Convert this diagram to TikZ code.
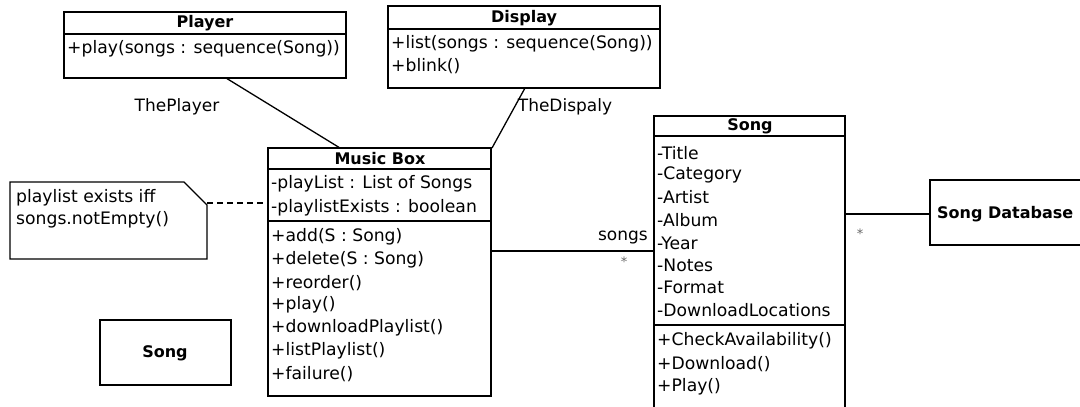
\documentclass[tikz,border=0pt]{standalone}
\usepackage{fontspec}
\setmainfont{DejaVu Sans}
\usetikzlibrary{calc}
\tikzset{
  box/.style={draw, line width=1.3pt, anchor=north west, inner sep=0pt, outer sep=0pt},
  txt/.style={anchor=west, inner sep=0pt, font=\fontsize{17.2}{18}\selectfont},
  ttl/.style={anchor=center, inner sep=0pt, font=\fontsize{16}{18}\selectfont\bfseries},
  lbl/.style={inner sep=0pt, font=\fontsize{17}{18}\selectfont},
  mult/.style={inner sep=0pt, text=black!60, font=\fontsize{13}{14}\selectfont},
  conn/.style={line width=1.3pt},
  sepline/.style={line width=1.3pt}
}
\begin{document}
\begin{tikzpicture}[x=1pt,y=-1pt]
\useasboundingbox (0,0) rectangle (1080,407);

% Player
\node[box, minimum width=282pt, minimum height=66pt] (player) at (64,12) {};
\draw[sepline] (64,34) -- (346,34);
\node[ttl] (playerT) at (205,23) {Player};
\node[txt] (playerM) at (67,49) {+play(songs : sequence(Song))};

% Display
\node[box, minimum width=272pt, minimum height=82pt] (display) at (388,6) {};
\draw[sepline] (388,29) -- (660,29);
\node[ttl] (displayT) at (524,18) {Display};
\node[txt] (displayM1) at (391,44) {+list(songs : sequence(Song))};
\node[txt] (displayM2) at (391,66) {+blink()};

% Music Box
\node[box, minimum width=223pt, minimum height=248pt] (mbox) at (268,148) {};
\draw[sepline] (268,169) -- (491,169);
\draw[sepline] (268,221) -- (491,221);
\node[ttl] (mboxT) at (380,159) {Music Box};
\node[txt] (mA1) at (271,184) {-playList : List of Songs};
\node[txt] (mA2) at (271,208) {-playlistExists : boolean};
\node[txt] (mM1) at (271,237) {+add(S : Song)};
\node[txt] (mM2) at (271,260) {+delete(S : Song)};
\node[txt] (mM3) at (271,283) {+reorder()};
\node[txt] (mM4) at (271,305) {+play()};
\node[txt] (mM5) at (271,328) {+downloadPlaylist()};
\node[txt] (mM6) at (271,351) {+listPlaylist()};
\node[txt] (mM7) at (271,374) {+failure()};

% Note
\draw[line width=1.3pt] (10,182) -- (184,182) -- (207,205) -- (207,259) -- (10,259) -- cycle;
\coordinate (noteR) at (207,203);
\node[txt] (n1) at (16,198) {playlist exists iff};
\node[txt] (n2) at (16,220) {songs.notEmpty()};

% Small Song box
\node[box, minimum width=131pt, minimum height=65pt] (song2) at (100,320) {};
\node[ttl] (song2T) at (165,353) {Song};

% Song class
\draw[line width=1.3pt] (654,420) -- (654,116) -- (845,116) -- (845,420);
\coordinate (songNW) at (654,116);
\draw[sepline] (654,136) -- (845,136);
\draw[sepline] (654,325) -- (845,325);
\node[ttl] (songT) at (750,126) {Song};
\node[txt] (s1) at (657,153) {-Title};
\node[txt] (s2) at (657,175) {-Category};
\node[txt] (s3) at (657,197) {-Artist};
\node[txt] (s4) at (657,220) {-Album};
\node[txt] (s5) at (657,243) {-Year};
\node[txt] (s6) at (657,265) {-Notes};
\node[txt] (s7) at (657,287) {-Format};
\node[txt] (s8) at (657,310) {-DownloadLocations};
\node[txt] (s9) at (657,341) {+CheckAvailability()};
\node[txt] (s10) at (657,364) {+Download()};
\node[txt] (s11) at (657,387) {+Play()};

% Song Database
\node[box, minimum width=170pt, minimum height=65pt] (db) at (930,180) {};
\node[ttl, anchor=west] (dbT) at (937,214) {Song Database};

% connectors
\coordinate (pBot) at (226,78);
\coordinate (mTop) at (340,148);
\draw[conn] (pBot) -- (mTop);
\coordinate (dBot) at (525,88);
\coordinate (mTR) at (492,148);
\draw[conn] (dBot) -- (mTR);
\coordinate (mL) at (268,203);
\draw[conn, dashed, dash pattern=on 6pt off 4pt] (noteR) -- (mL);
\coordinate (mR) at (491,251);
\coordinate (sL) at (654,251);
\draw[conn] (mR) -- (sL);
\coordinate (sR) at (845,214);
\coordinate (dbL) at (930,214);
\draw[conn] (sR) -- (dbL);

\node[lbl] (lp) at (177,107) {ThePlayer};
\node[lbl] (ld) at (565,107) {TheDispaly};
\node[lbl, anchor=east] (ls) at (648,238) {songs};
\node[mult] (st1) at (624,262) {*};
\node[mult] (st2) at (860,234) {*};
\end{tikzpicture}
\end{document}
